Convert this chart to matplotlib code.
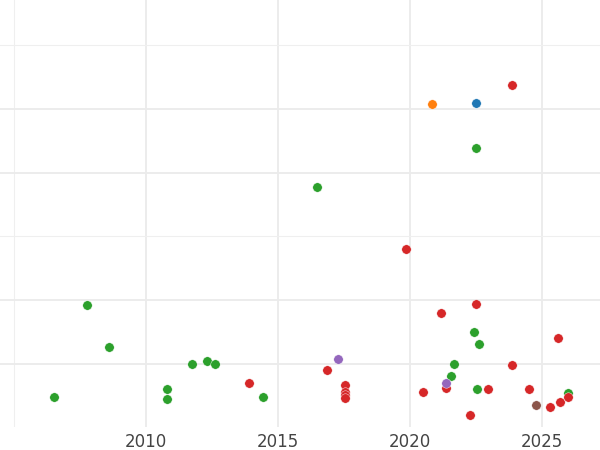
import matplotlib
matplotlib.use("Agg")
import matplotlib.pyplot as plt

# year, value per group (value axis has no labels in the reference)
green_x = [2006.50, 2007.75, 2008.61, 2010.81, 2010.81, 2011.74, 2012.32, 2012.60,
           2014.43, 2016.47, 2022.50, 2022.42, 2022.60, 2021.68, 2021.56, 2022.54, 2025.97]
green_y = [0.478, 1.925, 1.262, 0.608, 0.456, 1.005, 1.047, 1.005,
           0.487, 3.779, 4.381, 1.506, 1.309, 1.005, 0.807, 0.608, 0.545]

red_x = [2023.85, 2019.86, 2022.50, 2021.16, 2025.61, 2023.85, 2013.88, 2016.86,
         2017.52, 2017.52, 2017.52, 2017.52, 2020.49, 2021.36, 2022.93, 2022.25,
         2024.51, 2025.28, 2025.66, 2025.98]
red_y = [5.368, 2.803, 1.945, 1.804, 1.408, 0.980, 0.707, 0.906,
         0.671, 0.561, 0.514, 0.467, 0.566, 0.624, 0.608, 0.205,
         0.608, 0.326, 0.404, 0.478]

orange_x = [2020.84]
orange_y = [5.071]
blue_x = [2022.50]
blue_y = [5.096]
purple_x = [2017.27, 2021.36]
purple_y = [1.074, 0.697]
brown_x = [2024.78]
brown_y = [0.357]

groups = [
    (blue_x, blue_y, "#1f77b4"),
    (orange_x, orange_y, "#ff7f0e"),
    (green_x, green_y, "#2ca02c"),
    (red_x, red_y, "#d62728"),
    (purple_x, purple_y, "#9467bd"),
    (brown_x, brown_y, "#8c564b"),
]

fig = plt.figure(figsize=(6, 4.5), dpi=100)
ax = fig.add_axes([0, 23 / 450, 1, 427 / 450])

for xs, ys, c in groups:
    ax.scatter(xs, ys, s=46, color=c, edgecolors="white", linewidths=0.3, zorder=3)

ax.set_xlim(2004.47, 2027.19)
ax.set_ylim(0.01, 6.705)

ax.set_xticks([2010, 2015, 2020, 2025])
ax.set_xticks([2005], minor=True)
ax.set_yticks([1, 2, 4, 5])
ax.set_yticks([3, 6], minor=True)
ax.grid(which="major", color="#ebebeb", lw=1.3)
ax.grid(which="minor", color="#efefef", lw=0.8)
ax.set_axisbelow(True)

ax.tick_params(axis="both", which="both", length=0)
ax.tick_params(axis="x", labelsize=12, labelcolor="#444444", pad=4)
ax.set_yticklabels([])
for s in ax.spines.values():
    s.set_visible(False)

fig.savefig("out.png", dpi=100)
